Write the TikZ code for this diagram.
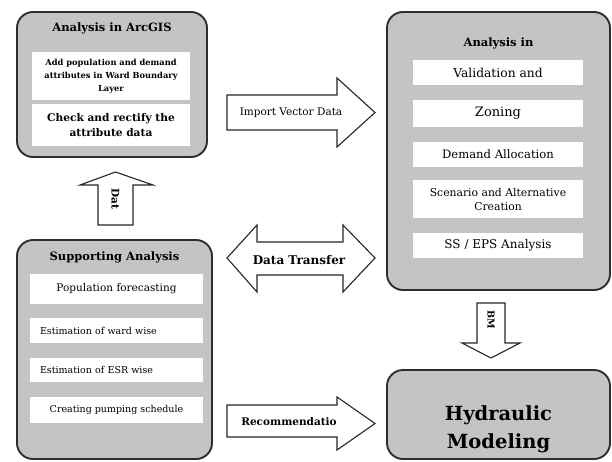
\documentclass[tikz,border=0pt]{standalone}
\usepackage{fontspec}
\setmainfont{DejaVu Serif}
\definecolor{panelgray}{HTML}{C4C4C4}
\definecolor{edgegray}{HTML}{2E2E2E}
\begin{document}
\begin{tikzpicture}[x=1pt,y=-1pt,
  panel/.style={draw=edgegray, line width=1.9pt, fill=panelgray, rounded corners=16pt, inner sep=0pt},
  item/.style={fill=white, inner sep=0pt, align=center, font=\fontsize{9.5}{12}\selectfont},
  ritem/.style={item, minimum width=170pt},
  ptitle/.style={font=\fontsize{11.5}{13}\selectfont\bfseries},
  blockarrow/.style={draw=black!85, line width=1.1pt, fill=white, line join=miter},
  alabel/.style={font=\fontsize{10.5}{12}\selectfont\bfseries}]
\useasboundingbox (0,0) rectangle (612,461);
\fill[white] (0,0) rectangle (612,461);

% ---------- Analysis in ArcGIS ----------
\node[panel, minimum width=190pt, minimum height=145pt] (arc) at (112,84.5) {};
\node[ptitle] (arct) at (112,28) {Analysis in ArcGIS};
\node[item, minimum width=158pt, minimum height=48pt, font=\fontsize{8.3}{13}\selectfont\bfseries] (arc1) at (111,76)
  {Add population and demand\\attributes in Ward Boundary\\Layer};
\node[item, minimum width=158pt, minimum height=42pt, font=\fontsize{10.6}{15}\selectfont\bfseries] (arc2) at (111,125)
  {Check and rectify the\\attribute data};

% ---------- Supporting Analysis ----------
\node[panel, minimum width=195pt, minimum height=219pt] (sup) at (114.5,349.5) {};
\node[ptitle] (supt) at (114.5,257) {Supporting Analysis};
\node[item, minimum width=173pt, minimum height=30pt, font=\fontsize{10.5}{12}\selectfont] (sup1) at (116.5,289) {Population forecasting};
\node[item, minimum width=173pt, minimum height=25pt, text width=153pt, align=left] (sup2) at (116.5,330.5) {Estimation of ward wise};
\node[item, minimum width=173pt, minimum height=24pt, text width=153pt, align=left] (sup3) at (116.5,370) {Estimation of ESR wise};
\node[item, minimum width=173pt, minimum height=26pt] (sup4) at (116.5,410) {Creating pumping schedule};

% ---------- Analysis in ----------
\node[panel, minimum width=223pt, minimum height=278pt] (ana) at (498.5,151) {};
\node[ptitle] (anat) at (498.5,43) {Analysis in};
\node[ritem, minimum height=25pt, font=\fontsize{12.3}{14}\selectfont] (ana1) at (498,72.5) {Validation and};
\node[ritem, minimum height=27pt, font=\fontsize{13}{14}\selectfont] (ana2) at (498,113.5) {Zoning};
\node[ritem, minimum height=25pt, font=\fontsize{11.6}{14}\selectfont] (ana3) at (498,154.5) {Demand Allocation};
\node[ritem, minimum height=38pt, font=\fontsize{10.8}{14}\selectfont] (ana4) at (498,199) {Scenario and Alternative\\Creation};
\node[ritem, minimum height=25pt, font=\fontsize{12}{14}\selectfont] (ana5) at (498,245.5) {SS / EPS Analysis};

% ---------- Hydraulic Modeling ----------
\node[panel, minimum width=223pt, minimum height=89pt] (hyd) at (498.5,414.5) {};
\node[align=center, font=\fontsize{19.5}{28}\selectfont\bfseries] (hydt) at (498.5,429) {Hydraulic\\Modeling};

% ---------- block arrows ----------
\draw[blockarrow] (227,95) -- (337,95) -- (337,78) -- (375,112.5) -- (337,147) -- (337,130) -- (227,130) -- cycle;
\node[font=\fontsize{10.5}{12}\selectfont] (imp) at (291,112.5) {Import Vector Data};

\draw[blockarrow] (227,258) -- (257,225) -- (257,242) -- (343,242) -- (343,225) -- (375,258)
  -- (343,292) -- (343,275) -- (257,275) -- (257,292) -- cycle;
\node[font=\fontsize{12}{14}\selectfont\bfseries] (dtr) at (299,260) {Data Transfer};

\draw[blockarrow] (227,405) -- (337,405) -- (337,397) -- (375,423.5) -- (337,450) -- (337,437) -- (227,437) -- cycle;
\node[alabel] (rec) at (289,422) {Recommendatio};

\draw[blockarrow] (98,225) -- (98,185) -- (80,185) -- (115.5,172) -- (153,185) -- (133,185) -- (133,225) -- cycle;
\node[alabel, rotate=-90] (dat) at (115.5,199) {Dat};

\draw[blockarrow] (477,303) -- (505,303) -- (505,343) -- (520,343) -- (491,358) -- (462,343) -- (477,343) -- cycle;
\node[alabel, font=\fontsize{9.5}{11}\selectfont\bfseries, rotate=-90] (bm) at (491,320) {BM};
\end{tikzpicture}
\end{document}
